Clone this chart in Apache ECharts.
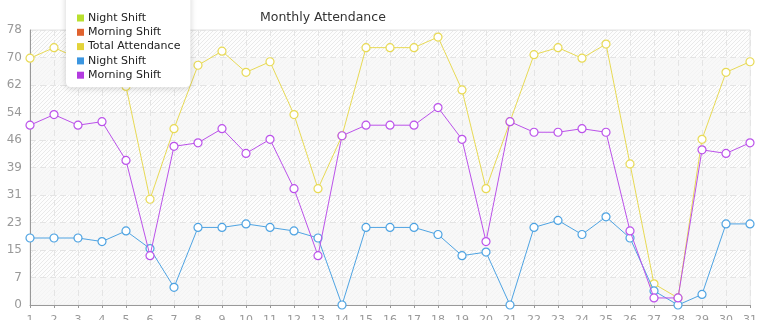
<!DOCTYPE html>
<html><head><meta charset="utf-8">
<script src="https://cdn.jsdelivr.net/npm/echarts@6/dist/echarts.min.js"></script>
<style>html,body{margin:0;padding:0;background:#fff}#c{width:765px;height:320px}</style>
</head><body><div id="c"></div>
<script>
const days = ['1','2','3','4','5','6','7','8','9','10','11','12','13','14','15','16','17','18','19','20','21','22','23','24','25','26','27','28','29','30','31'];
const totalAttendance = [70,73,70,70,62,30,50,68,72,66,69,54,33,48,73,73,73,76,61,33,52,71,73,70,74,40,6,2,47,66,69];
const morningShift = [51,54,51,52,41,14,45,46,50,43,47,33,14,48,51,51,51,56,47,18,52,49,49,50,49,21,2,2,44,43,46];
const nightShift = [19,19,19,18,21,16,5,22,22,23,22,21,19,0,22,22,22,20,14,15,0,22,24,20,25,19,4,0,3,23,23];
const legendLabels = ['Night Shift','Morning Shift','Total Attendance','Night Shift','Morning Shift'];
const seriesKeys = ['nightBar','morningBar','total','night','morning'];
const yMax = 78, yStep = 7.8;

// hatch pattern for the plot background
const pc = document.createElement('canvas');
pc.width = 4; pc.height = 4;
const px = pc.getContext('2d');
px.fillStyle = '#fdfdfd'; px.fillRect(0,0,4,4);
px.strokeStyle = '#e9e9e9'; px.lineWidth = 1;
px.beginPath(); px.moveTo(-1,5); px.lineTo(5,-1); px.stroke();
px.beginPath(); px.moveTo(-3,3); px.lineTo(3,-3); px.stroke();
px.beginPath(); px.moveTo(1,7); px.lineTo(7,1); px.stroke();

const colors = ['#b9e02e','#e0622e','#e3d33a','#3b96e0','#b33be0'];
const lineColors = ['#b9e02e','#e0622e','#e8da55','#4ea3e2','#bb52ea'];
const labelMap = {};
seriesKeys.forEach((k,i)=>labelMap[k]=legendLabels[i]);

function lineSeries(key, data, idx){
  return {
    name: key, type: 'line', data: data,
    symbol: 'circle', symbolSize: 8,
    itemStyle: {color: '#fff', borderColor: lineColors[idx], borderWidth: 1.2},
    lineStyle: {color: lineColors[idx], width: 1},
    color: colors[idx],
    z: 3 + idx
  };
}

const chart = echarts.init(document.getElementById('c'), null, {renderer:'canvas'});
chart.setOption({
  animation: false,
  color: colors,
  title: {text: 'Monthly Attendance', left: 255, top: 6,
    textStyle: {fontFamily: 'DejaVu Sans', fontSize: 12.5, fontWeight: 'normal', color: '#333'}},
  legend: {
    orient: 'vertical', left: 66, top: -10,
    padding: [21, 10, 5, 11],
    backgroundColor: '#fff', borderRadius: 5,
    shadowBlur: 6, shadowColor: 'rgba(0,0,0,0.18)', shadowOffsetY: 1,
    icon: 'rect', itemWidth: 7, itemHeight: 7, itemGap: 0.3,
    data: seriesKeys.map((k,i)=>({name:k, itemStyle:{color: colors[i], borderWidth:0}})),
    formatter: n => labelMap[n],
    textStyle: {fontFamily: 'DejaVu Sans', fontSize: 11, color: '#222', lineHeight: 14, padding:[0,0,0,-1]},
    z: 10
  },
  grid: {left: 30, right: 15, top: 30, bottom: 15, show: true, containLabel: false,
    outerBoundsMode: 'none',
    backgroundColor: {image: pc, repeat: 'repeat'}, borderColor: '#e2e2e2', borderWidth: 1},
  xAxis: {
    type: 'category', data: days, boundaryGap: false,
    axisLine: {lineStyle: {color: '#999'}},
    axisTick: {show: true, lineStyle: {color: '#999'}, length: 3},
    axisLabel: {color: '#999', fontFamily: 'DejaVu Sans', fontSize: 11, margin: 10, interval: 0},
    splitLine: {show: true, lineStyle: {color: '#e4e4e4', type: [6,4]}}
  },
  yAxis: {
    type: 'value', min: 0, max: yMax, interval: yStep,
    axisLine: {show: true, lineStyle: {color: '#999'}},
    axisTick: {show: false},
    axisLabel: {color: '#999', fontFamily: 'DejaVu Sans', fontSize: 12, margin: 8,
      formatter: v => String(Math.floor(v + 1e-9))},
    splitLine: {show: true, lineStyle: {color: '#e4e4e4', type: [6,4]}},
    splitArea: {show: true, areaStyle: {color: ['rgba(246,246,246,0.75)', 'rgba(255,255,255,0)']}}
  },
  series: [
    {name: 'nightBar', type: 'line', data: [], color: colors[0]},
    {name: 'morningBar', type: 'line', data: [], color: colors[1]},
    lineSeries('total', totalAttendance, 2),
    lineSeries('night', nightShift, 3),
    lineSeries('morning', morningShift, 4)
  ]
});
</script></body></html>
